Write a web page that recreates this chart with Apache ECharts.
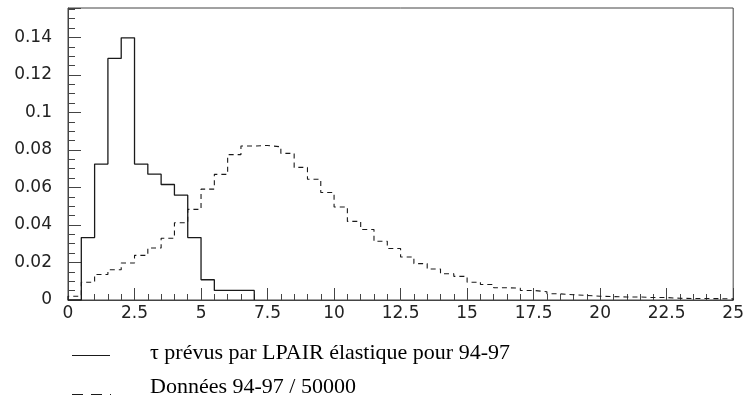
<!DOCTYPE html>
<html>
<head>
<meta charset="utf-8">
<script src="https://cdn.jsdelivr.net/npm/echarts@6/dist/echarts.min.js"></script>
<style>
html,body{margin:0;padding:0;background:#fff;}
#chart{width:747px;height:401px;}
</style>
</head>
<body>
<div id="chart"></div>
<script>
// Bin layout (width 0.5, starting at 0)
var binStart = 0;
var binWidth = 0.5;

// Series names
var solidName = 'τ prévus par LPAIR élastique pour 94-97';
var dashedName = 'Données 94-97 / 50000';

// Solid histogram: bins 0–0.5 ... 6.5–7.0
var solidValues = [0, 0.0333, 0.0725, 0.1288, 0.1398, 0.0725, 0.0671, 0.0616, 0.0559, 0.0333, 0.0108, 0.0051, 0.0051, 0.0051];

// Dashed histogram: bins 0–0.5 ... 24.5–25
var dashedValues = [
  0.0020, 0.0095, 0.0136, 0.0161, 0.0197, 0.0238, 0.0277, 0.0329, 0.0412, 0.0483,
  0.0591, 0.0670, 0.0775, 0.0821, 0.0824, 0.0817, 0.0782, 0.0707, 0.0644, 0.0573,
  0.0496, 0.0419, 0.0376, 0.0313, 0.0275, 0.0229, 0.0194, 0.0165, 0.0140, 0.0126,
  0.0095, 0.0083, 0.0065, 0.0063, 0.0051, 0.0044, 0.0033, 0.0028, 0.0024, 0.0020,
  0.0018, 0.0016, 0.0016, 0.0013, 0.0013, 0.0009, 0.0008, 0.0008, 0.0007, 0.0006
];

// Axis ranges / ticks
var xMin = 0, xMax = 25, xStep = 2.5;
var yMin = 0, yMax = 0.1557, yStep = 0.02;

function histPoints(values) {
  var pts = [[binStart, 0]];
  for (var i = 0; i < values.length; i++) {
    var a = binStart + i * binWidth, b = a + binWidth;
    pts.push([a, values[i]], [b, values[i]]);
  }
  pts.push([binStart + values.length * binWidth, 0]);
  return pts;
}

var chart = echarts.init(document.getElementById('chart'), null, {renderer: 'canvas'});
var tickFont = {fontFamily: 'DejaVu Sans', fontSize: 17, color: '#222'};
var legendFont = {fontFamily: 'Liberation Serif', fontSize: 22, fill: '#000'};

chart.setOption({
  animation: false,
  backgroundColor: '#fff',
  grid: {left: 68, right: 12, top: 8, bottom: 101, show: true, borderColor: '#444', borderWidth: 1, backgroundColor: 'transparent'},
  xAxis: {
    type: 'value', min: xMin, max: xMax, interval: xStep,
    axisLine: {show: true, lineStyle: {color: '#444', width: 1}},
    axisTick: {show: true, inside: true, length: 12, lineStyle: {color: '#444'}},
    minorTick: {show: true, splitNumber: 5, length: 6, lineStyle: {color: '#444'}},
    splitLine: {show: false},
    axisLabel: Object.assign({margin: 5}, tickFont)
  },
  yAxis: {
    type: 'value', min: yMin, max: yMax, interval: yStep,
    axisLine: {show: true, lineStyle: {color: '#444', width: 1}},
    axisTick: {show: true, inside: true, length: 13, lineStyle: {color: '#444'}},
    minorTick: {show: true, splitNumber: 4, length: 7, lineStyle: {color: '#444'}},
    splitLine: {show: false},
    axisLabel: Object.assign({margin: 16, showMaxLabel: false}, tickFont)
  },
  graphic: [
    {type: 'line', shape: {x1: 72, y1: 355.5, x2: 110, y2: 355.5}, style: {stroke: '#1a1a1a', lineWidth: 1.2}},
    {type: 'text', x: 150, y: 353, style: Object.assign({text: solidName, verticalAlign: 'middle', align: 'left'}, legendFont)},
    {type: 'line', shape: {x1: 72, y1: 394.5, x2: 111, y2: 394.5}, style: {stroke: '#1a1a1a', lineWidth: 1.2, lineDash: [11, 8]}},
    {type: 'text', x: 150, y: 387, style: Object.assign({text: dashedName, verticalAlign: 'middle', align: 'left'}, legendFont)}
  ],
  series: [
    {
      name: solidName, type: 'line', data: histPoints(solidValues),
      symbol: 'none', showSymbol: false, clip: true,
      lineStyle: {color: '#1a1a1a', width: 1.3, type: 'solid'},
      itemStyle: {color: '#1a1a1a'}
    },
    {
      name: dashedName, type: 'line', data: histPoints(dashedValues),
      symbol: 'none', showSymbol: false, clip: true,
      lineStyle: {color: '#1a1a1a', width: 1.1, type: [5, 4]},
      itemStyle: {color: '#1a1a1a'}
    }
  ]
});
</script>
</body>
</html>
